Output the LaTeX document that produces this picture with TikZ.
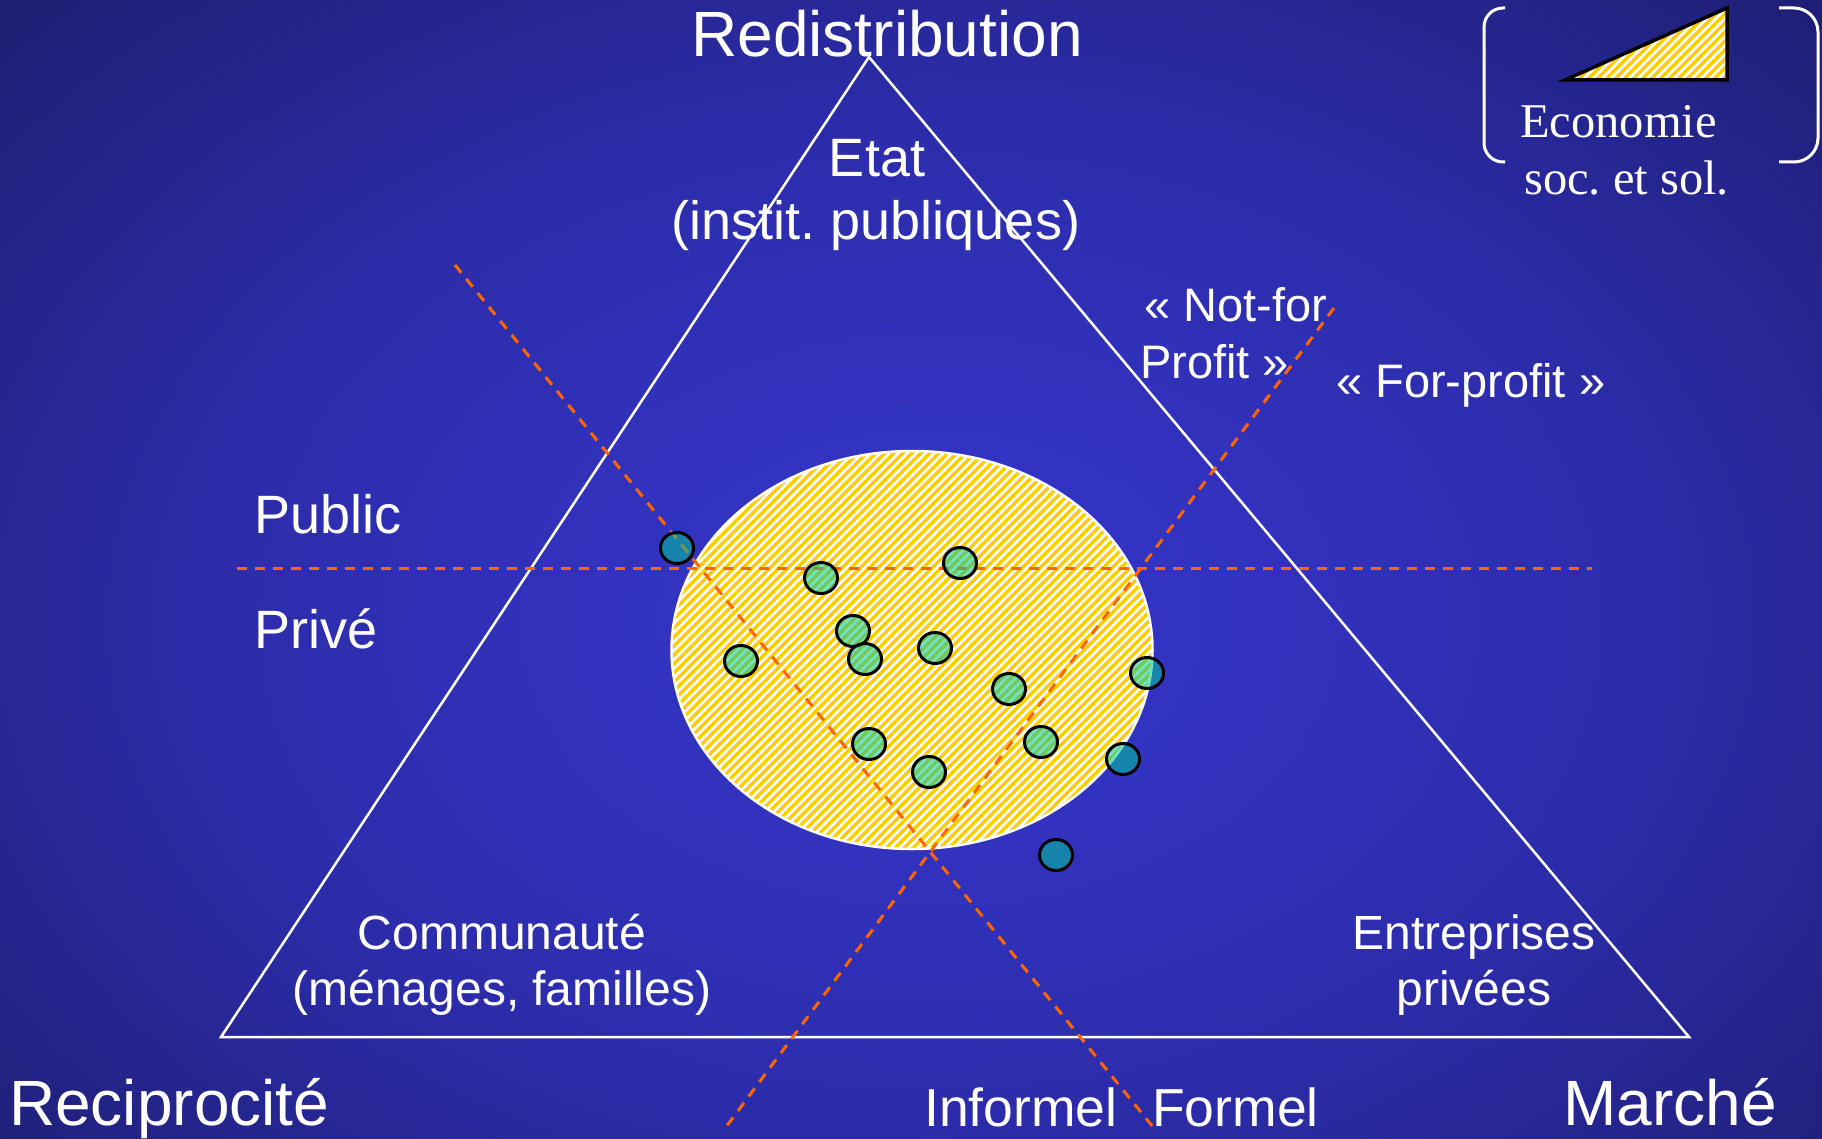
\documentclass[tikz,border=0pt]{standalone}
\usepackage{fontspec}
\setmainfont{Liberation Sans}
\newfontfamily\legendfont{Liberation Serif}
\usetikzlibrary{shapes.geometric}
\frenchspacing
\definecolor{bgin}{RGB}{51,51,195}
\definecolor{bginner}{RGB}{44,44,170}
\definecolor{bgmid}{RGB}{31,31,118}
\definecolor{bgout}{RGB}{25,25,96}
\definecolor{bgedge}{RGB}{22,22,86}
\definecolor{dashorange}{RGB}{255,102,0}
\definecolor{stripey}{RGB}{255,204,0}
\definecolor{dotfill}{RGB}{0,200,155}
\pgfdeclareradialshading{bgshade}{\pgfpoint{0bp}{0bp}}{color(0bp)=(bgin); color(6bp)=(bgin); color(18bp)=(bginner); color(31bp)=(bgmid); color(42bp)=(bgout); color(72bp)=(bgedge)}
\begin{document}
\begin{tikzpicture}[x=1pt,y=-1pt,
  big/.style={font=\fontsize{64}{76}\selectfont, text=white, inner sep=0pt},
  etatlab/.style={font=\fontsize{54}{64}\selectfont, text=white, inner sep=0pt},
  sidelab/.style={font=\fontsize{54}{64}\selectfont, text=white, inner sep=0pt},
  inflab/.style={font=\fontsize{53.5}{64}\selectfont, text=white, inner sep=0pt},
  lab/.style={font=\fontsize{48}{57}\selectfont, text=white, inner sep=0pt},
  prolab/.style={font=\fontsize{47}{56}\selectfont, text=white, inner sep=0pt},
  leglab/.style={font=\legendfont\fontsize{48.5}{57}\selectfont, text=white, inner sep=0pt},
  stripeline/.style={draw=stripey, line width=3.5pt},
  orangedash/.style={draw=dashorange, line width=3pt, dash pattern=on 10pt off 8pt},
  dot/.style={ellipse, minimum width=33pt, minimum height=31pt, inner sep=0pt, draw=black, line width=3pt, fill=dotfill, fill opacity=0.55, draw opacity=1},
  bracket/.style={draw=white, line width=3pt}
]
\useasboundingbox (0,0) rectangle (1822,1139);
% background
\begin{scope}
  \clip (0,0) rectangle (1822,1139);
  \shade[shading=bgshade] (-70,-80) rectangle (1930,1320);
\end{scope}

% main triangle
\coordinate (apex) at (869,57);
\coordinate (bl) at (221,1037);
\coordinate (br) at (1689,1037);
\draw[white, line width=2.5pt, line join=miter] (apex) -- (bl) -- (br) -- cycle;

% ESS ellipse: white ground with yellow diagonal stripes
\begin{scope}
  \clip (912,650) ellipse [x radius=240.5pt, y radius=199pt];
  \fill[white] (660,440) rectangle (1165,860);
  \foreach \k in {0,...,106} {
    \draw[stripeline] ({262+\k*9},860) -- ++(430,-430);
  }
\end{scope}
\node[ellipse, minimum width=481pt, minimum height=398pt, inner sep=0pt, draw=white, line width=2.5pt] (ess) at (912,650) {};

% dashed dividers
\coordinate (h1) at (237,568);
\coordinate (h2) at (1592,568);
\coordinate (a1) at (455,265);
\coordinate (a2) at (1153,1127);
\coordinate (b1) at (1334,308);
\coordinate (b2) at (726,1127);
\draw[orangedash] (h1) -- (h2);
\draw[orangedash] (a1) -- (a2);
\draw[orangedash] (b1) -- (b2);

% organisations
\node[dot] (o1) at (677,548) {};
\node[dot] (o2) at (821,578) {};
\node[dot] (o3) at (960,563) {};
\node[dot] (o4) at (853,631) {};
\node[dot] (o5) at (865,659) {};
\node[dot] (o6) at (935,648) {};
\node[dot] (o7) at (741,661) {};
\node[dot] (o8) at (1009,689) {};
\node[dot] (o9) at (1147,673) {};
\node[dot] (o10) at (1041,742) {};
\node[dot] (o11) at (869,744) {};
\node[dot] (o12) at (929,772) {};
\node[dot] (o13) at (1123,759) {};
\node[dot] (o14) at (1056,855) {};

% corner labels
\node[big, anchor=base] (redis) at (887,57) {Redistribution};
\node[big, anchor=base west] (recip) at (9,1125) {Reciprocité};
\node[big, anchor=base east] (marche) at (1777,1125) {Marché};

% sector labels
\node[etatlab, anchor=base] (etat1) at (877,177) {Etat};
\node[etatlab, anchor=base] (etat2) at (876,240) {(instit. publiques)};
\node[lab, anchor=base] (comm1) at (502,949) {Communauté};
\node[lab, anchor=base] (comm2) at (502,1005) {(ménages, familles)};
\node[lab, anchor=base] (ent1) at (1474,949) {Entreprises};
\node[lab, anchor=base] (ent2) at (1474,1005) {privées};

\node[sidelab, anchor=base west] (public) at (254,533) {Public};
\node[sidelab, anchor=base west] (prive) at (254,648) {Privé};
\node[prolab, anchor=base west] (nfp1) at (1144,322) {«~Not-for};
\node[prolab, anchor=base west] (nfp2) at (1140,378) {Profit~»};
\node[prolab, anchor=base west] (fp) at (1336,397) {«~For-profit~»};
\node[inflab, anchor=base west] (inf) at (924,1126) {Informel};
\node[inflab, anchor=base west] (form) at (1152,1126) {Formel};

% legend
\coordinate (lt1) at (1565,80);
\coordinate (lt2) at (1727,8);
\coordinate (lt3) at (1727,80);
\begin{scope}
  \clip (lt1) -- (lt2) -- (lt3) -- cycle;
  \fill[white] (1555,0) rectangle (1735,90);
  \foreach \k in {0,...,21} {
    \draw[stripeline] ({1550+\k*9},90) -- ++(100,-100);
  }
\end{scope}
\draw[black, line width=3.5pt, line join=miter] (lt1) -- (lt2) -- (lt3) -- cycle;
\draw[bracket, rounded corners=19pt] (1505,8) -- (1484,8) -- (1484,162) -- (1505,162);
\draw[bracket, rounded corners=24pt] (1779,8) -- (1818,8) -- (1818,162) -- (1779,162);
\node[leglab, anchor=base west] (leg1) at (1520,138) {Economie};
\node[leglab, anchor=base west] (leg2) at (1524,195) {soc. et sol.};
\end{tikzpicture}
\end{document}
